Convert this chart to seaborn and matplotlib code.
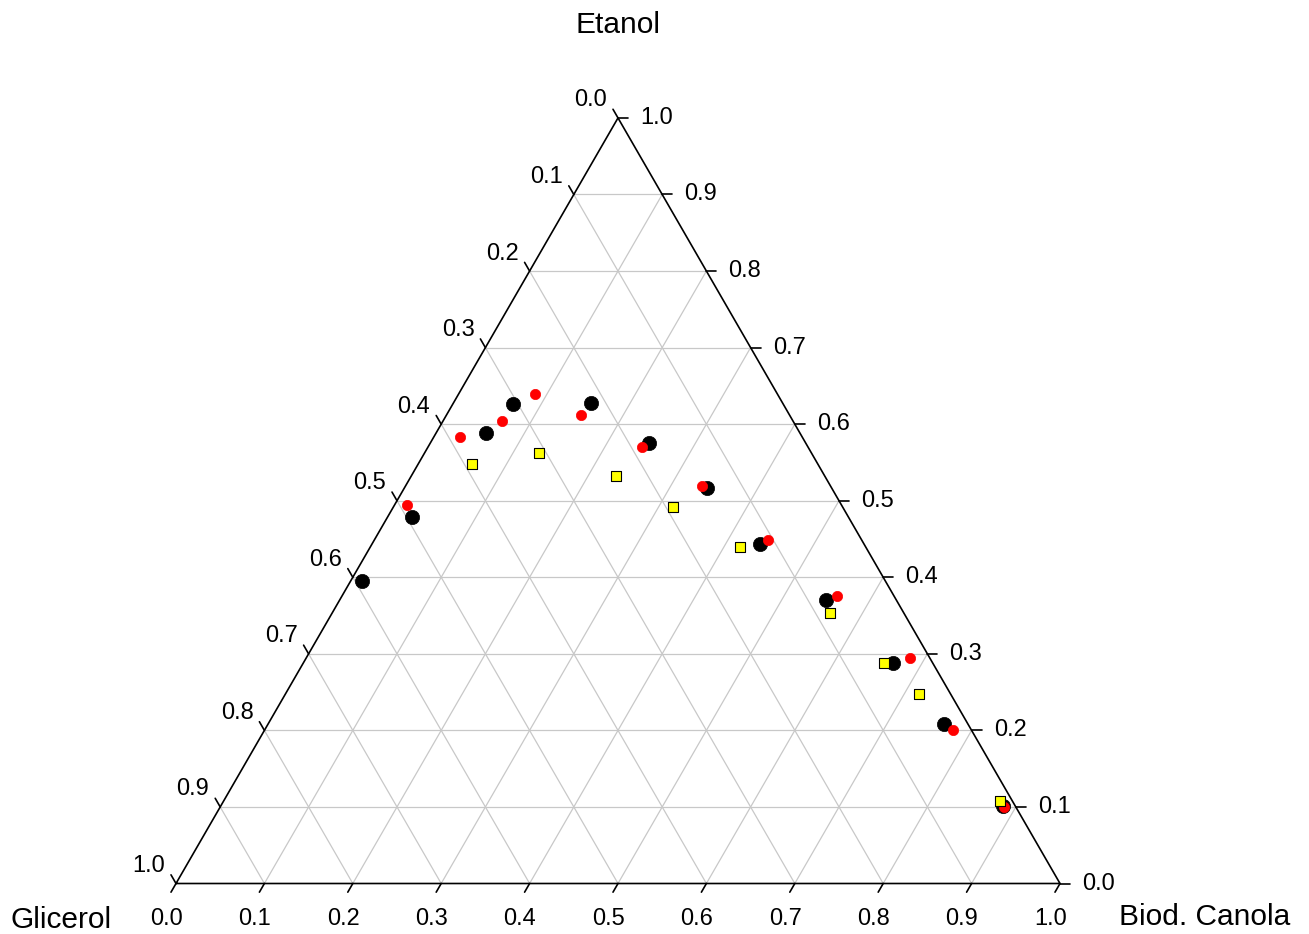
import matplotlib
matplotlib.use("Agg")
import matplotlib.pyplot as plt
import numpy as np
import pandas as pd
import seaborn as sns

# composition fractions (Biod. Canola, Etanol; Glicerol = 1 - both)
black_biod = [0.068, 0.056, 0.155, 0.247, 0.342, 0.027, 0.013, 0.439, 0.550, 0.667, 0.765, 0.885]
black_etanol = [0.626, 0.589, 0.628, 0.576, 0.517, 0.479, 0.395, 0.444, 0.370, 0.288, 0.208, 0.101]

red_biod = [0.086, 0.067, 0.030, 0.152, 0.242, 0.335, 0.014, 0.445, 0.560, 0.683, 0.779, 0.887]
red_etanol = [0.640, 0.604, 0.583, 0.612, 0.570, 0.519, 0.495, 0.449, 0.376, 0.294, 0.200, 0.100]

yellow_biod = [0.061, 0.130, 0.232, 0.316, 0.418, 0.563, 0.657, 0.717, 0.878]
yellow_etanol = [0.548, 0.562, 0.532, 0.492, 0.439, 0.353, 0.288, 0.247, 0.108]

tick_values = [i / 10 for i in range(11)]
tick_labels = [f"{v:.1f}" for v in tick_values]

H = np.sqrt(3) / 2


def to_xy(b, e):
    b = np.asarray(b, dtype=float)
    e = np.asarray(e, dtype=float)
    return b + 0.5 * e, e * H


def series_frame(b, e):
    x, y = to_xy(b, e)
    return pd.DataFrame({"x": x, "y": y})


sns.set_style("white")
plt.rcParams["font.family"] = ["Liberation Sans", "DejaVu Sans"]
plt.rcParams["text.color"] = "black"

fig = plt.figure(figsize=(13.09, 9.34), dpi=100)
ax = fig.add_axes([0, 0, 1, 1])
ax.set_xlim(-176 / 884, 1133 / 884)
ax.set_ylim(-50.5 / 884, 883.5 / 884)
ax.axis("off")

# grid
grid_kw = dict(color="#c8c8c8", linewidth=0.9, zorder=1)
for v in tick_values[1:-1]:
    x, y = to_xy([0, 1 - v], [v, v])
    ax.plot(x, y, **grid_kw)
    x, y = to_xy([v, v], [0, 1 - v])
    ax.plot(x, y, **grid_kw)
    x, y = to_xy([1 - v, 0], [0, 1 - v])
    ax.plot(x, y, **grid_kw)

# triangle
x, y = to_xy([0, 1, 0, 0], [0, 0, 1, 0])
ax.plot(x, y, color="black", linewidth=1.2, zorder=2)

# ticks and tick labels
L = 10 / 884
for v, lab in zip(tick_values, tick_labels):
    # bottom: Biod. Canola
    x0, y0 = to_xy(v, 0)
    ax.plot([x0, x0 - 0.5 * L], [y0, y0 - H * L], color="black", linewidth=1.2)
    ax.text(x0 - 0.011, -0.040, lab, ha="center", va="center", fontsize=17)
    # right: Etanol
    x0, y0 = to_xy(1 - v, v)
    ax.plot([x0, x0 + L], [y0, y0], color="black", linewidth=1.2)
    ax.text(x0 + 0.025, y0, lab, ha="left", va="center", fontsize=17)
    # left: Glicerol
    x0, y0 = to_xy(0, 1 - v)
    ax.plot([x0, x0 - 0.5 * L], [y0, y0 + H * L], color="black", linewidth=1.2)
    ax.text(x0 - 0.0124, y0 + 0.0198, lab, ha="right", va="center", fontsize=17)

ax.text(0.5, 0.971, "Etanol", ha="center", va="center", fontsize=21.5)
ax.text(-0.130, -0.041, "Glicerol", ha="center", va="center", fontsize=21.5)
ax.text(1.164, -0.038, "Biod. Canola", ha="center", va="center", fontsize=21.5)

sns.scatterplot(data=series_frame(black_biod, black_etanol), x="x", y="y", ax=ax,
                color="black", s=105, marker="o", edgecolor="black", linewidth=0.5, zorder=3)
sns.scatterplot(data=series_frame(red_biod, red_etanol), x="x", y="y", ax=ax,
                color="red", s=55, marker="o", edgecolor="red", linewidth=0.5, zorder=4)
sns.scatterplot(data=series_frame(yellow_biod, yellow_etanol), x="x", y="y", ax=ax,
                color="yellow", s=52, marker="s", edgecolor="black", linewidth=0.8, zorder=5)

fig.savefig("out.png", dpi=100)
